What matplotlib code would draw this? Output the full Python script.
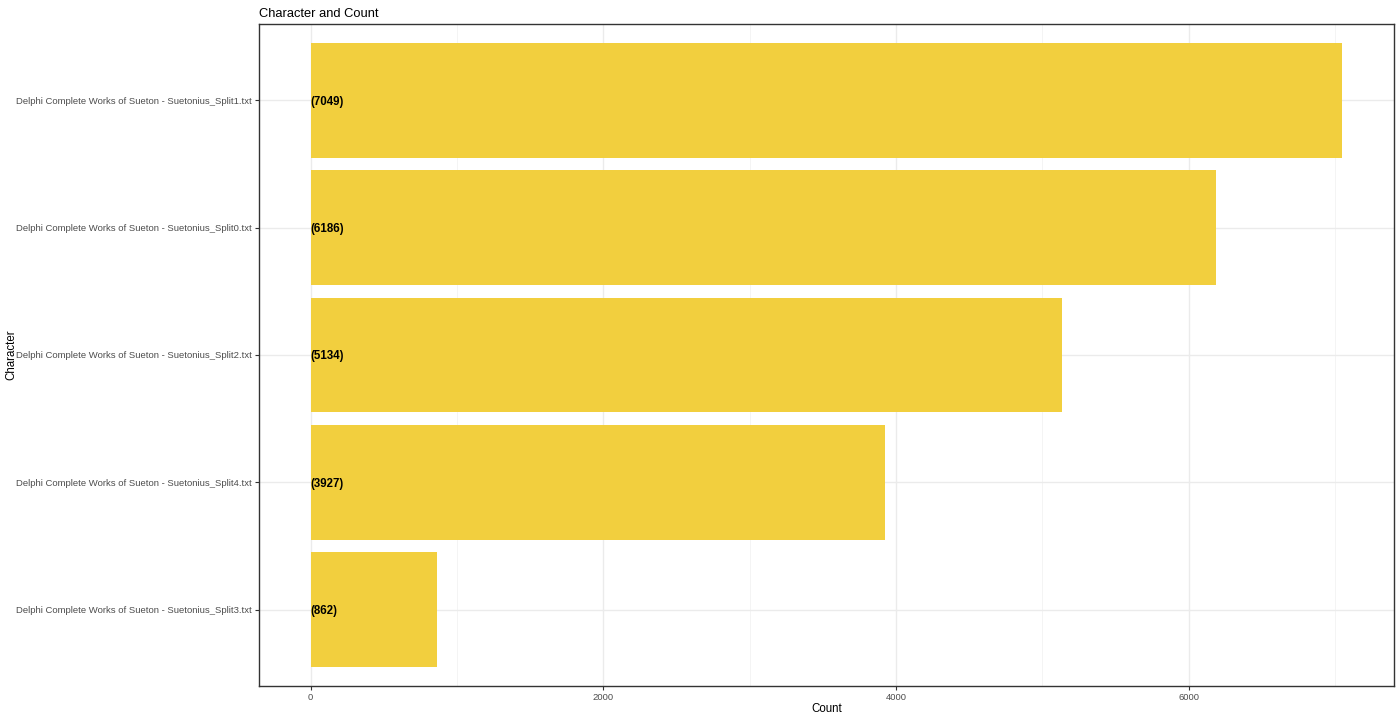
import matplotlib
matplotlib.use('Agg')
import matplotlib.pyplot as plt
from matplotlib.ticker import MultipleLocator

plt.rcParams['font.family'] = ['Liberation Sans', 'DejaVu Sans']

# bottom to top
characters = [
    'Delphi Complete Works of Sueton - Suetonius_Split3.txt',
    'Delphi Complete Works of Sueton - Suetonius_Split4.txt',
    'Delphi Complete Works of Sueton - Suetonius_Split2.txt',
    'Delphi Complete Works of Sueton - Suetonius_Split0.txt',
    'Delphi Complete Works of Sueton - Suetonius_Split1.txt',
]
counts = [862, 3927, 5134, 6186, 7049]

W, H = 1400, 720
fig = plt.figure(figsize=(14, 7.2), dpi=100)
ax = fig.add_axes([259 / W, 1 - 686 / H, (1394 - 259) / W, (686 - 24) / H])

pos = list(range(1, len(characters) + 1))
ax.barh(pos, counts, height=0.9, color='#F2CF3E', zorder=2)
for p, c in zip(pos, counts):
    ax.text(0, p, f'({c})', ha='left', va='center_baseline', fontsize=8.3,
            fontweight='bold', color='black', zorder=3)

xmax = max(counts)
ax.set_xlim(-0.05 * xmax, xmax * 1.05)
ax.set_ylim(0.4, len(characters) + 0.6)
ax.set_yticks(pos)
ax.set_yticklabels(characters, va='center_baseline')
ax.xaxis.set_major_locator(MultipleLocator(2000))
ax.xaxis.set_minor_locator(MultipleLocator(1000))
ax.grid(True, which='major', color='#EBEBEB', linewidth=1.0, zorder=0)
ax.grid(True, which='minor', axis='x', color='#F2F2F2', linewidth=0.6, zorder=0)
ax.set_axisbelow(True)

ax.tick_params(axis='both', which='major', labelsize=6.8, colors='#333333',
               labelcolor='#4D4D4D', length=3, width=0.8, pad=2)
ax.tick_params(axis='x', which='minor', length=0)
for s in ax.spines.values():
    s.set_color('#333333')
    s.set_linewidth(1.0)

ax.set_xlabel('Count', fontsize=8.3)
ax.xaxis.set_label_coords(0.5, -(703 - 686) / (686 - 24))
ax.set_ylabel('Character', fontsize=8.3)
ax.yaxis.set_label_coords(-(259 - 17) / (1394 - 259), 0.5)
ax.set_title('Character and Count', loc='left', fontsize=9.3, pad=5)

fig.savefig('out.png', dpi=100)
